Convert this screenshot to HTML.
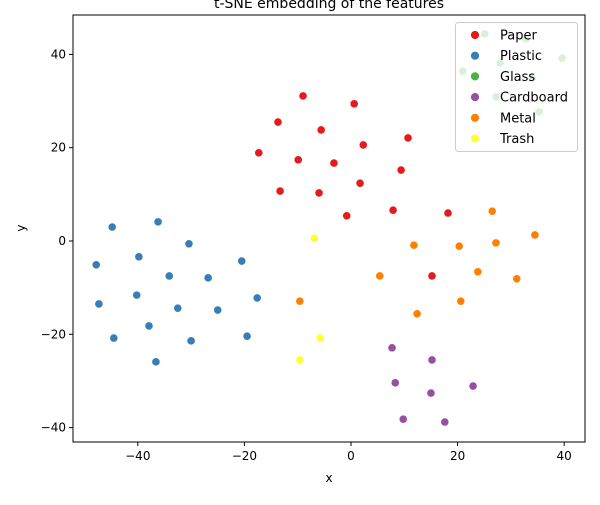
<!DOCTYPE html>
<html><head><meta charset="utf-8"><style>
body{margin:0;background:#fff;font-family:"Liberation Sans","DejaVu Sans",sans-serif}
text{font-family:"DejaVu Sans","Liberation Sans",sans-serif}
</style></head><body>
<svg id="chart" width="600" height="500" xmlns="http://www.w3.org/2000/svg">
<rect x="0" y="0" width="600" height="500" fill="#fff"/>
<text x="329" y="8" text-anchor="middle" font-size="14">t-SNE embedding of the features</text>
<g id="grid"></g>
<g id="pts"></g>
<rect x="73" y="15" width="512" height="427" fill="none" stroke="#000" stroke-width="1"/>
<g id="axes"></g>
<g id="legend"></g>
<text x="329" y="482" text-anchor="middle" font-size="12">x</text>
<text x="25" y="228" text-anchor="middle" font-size="12" transform="rotate(-90 25 228)">y</text>
</svg>
<script>
const categories=["Paper","Plastic","Glass","Cardboard","Metal","Trash"];
const colors=["#e41a1c","#377eb8","#4daf4a","#984ea3","#ff7f00","#ffff33"];
const paperX=[-9.0,0.6,-13.7,-5.6,10.7,2.3,-17.3,-9.9,-3.2,9.4,1.7,-13.3,-6.0,-0.8,7.9,18.2,15.2];
const paperY=[31.1,29.4,25.5,23.8,22.1,20.6,18.9,17.4,16.7,15.2,12.4,10.7,10.3,5.4,6.6,6.0,-7.5];
const plasticX=[-44.8,-36.2,-47.8,-39.8,-30.4,-34.1,-20.5,-26.8,-47.3,-40.2,-32.5,-25.0,-17.6,-44.5,-37.9,-30.0,-19.5,-36.6];
const plasticY=[3.0,4.1,-5.1,-3.4,-0.6,-7.5,-4.3,-7.9,-13.5,-11.6,-14.4,-14.8,-12.2,-20.8,-18.2,-21.4,-20.4,-25.9];
const glassX=[25.1,32.8,39.6,28.0,21.0,34.0,27.2,35.3];
const glassY=[44.4,43.3,39.2,38.2,36.4,34.9,30.9,27.7];
const cardboardX=[7.7,15.2,8.3,22.9,15.0,9.8,17.6];
const cardboardY=[-22.9,-25.5,-30.4,-31.1,-32.6,-38.2,-38.8];
const metalX=[26.5,34.5,11.8,20.3,27.2,23.8,5.4,31.1,-9.6,20.6,12.4];
const metalY=[6.4,1.3,-0.9,-1.1,-0.4,-6.6,-7.5,-8.1,-12.9,-12.9,-15.6];
const trashX=[-6.9,-5.8,-9.6];
const trashY=[0.6,-20.8,-25.5];
const xTicks=[-40,-20,0,20,40];
const yTicks=[-40,-20,0,20,40];
const NS="http://www.w3.org/2000/svg";
function sx(v){return 351+v*5.33;}
function sy(v){return 241-v*4.665;}
function mk(tag,attrs,parent){const e=document.createElementNS(NS,tag);for(const k in attrs)e.setAttribute(k,attrs[k]);parent.appendChild(e);return e;}
const axes=document.getElementById('axes');
xTicks.forEach(t=>{
  const l=mk('line',{x1:sx(t),x2:sx(t),y1:442,y2:446,stroke:'#000'},axes);
  
  
  const tx=mk('text',{x:sx(t),y:460,'text-anchor':'middle','font-size':'12'},axes);
  tx.textContent=(t<0?'\u2212'+(-t):t);
  
  
});
yTicks.forEach(t=>{
  const l=mk('line',{x1:69,x2:73,y1:sy(t),y2:sy(t),stroke:'#000'},axes);
  
  
  const tx=mk('text',{x:66,y:sy(t)+4,'text-anchor':'end','font-size':'12'},axes);
  tx.textContent=(t<0?'\u2212'+(-t):t);
  
  
});
const series=[[paperX,paperY],[plasticX,plasticY],[glassX,glassY],[cardboardX,cardboardY],[metalX,metalY],[trashX,trashY]];
const pts=document.getElementById('pts');
series.forEach((s,i)=>{
  s[0].forEach((x,j)=>{
    const c=mk('circle',{cx:sx(x),cy:sy(s[1][j]),r:4.2,fill:colors[i],stroke:'#fff','stroke-width':0.8},pts);
    
    
  });
});
const lg=document.getElementById('legend');
const box=mk('rect',{x:455.5,y:22.5,width:122,height:129,rx:3,fill:'#fff','fill-opacity':0.8,stroke:'#ccc'},lg);


categories.forEach((c,i)=>{
  const y=35+i*20.7;
  const d=mk('circle',{cx:475,cy:y,r:4.5,fill:colors[i],stroke:'#fff','stroke-width':0.8},lg);
  
  
  const t=mk('text',{x:500,y:y+4.5,'font-size':'13'},lg);
  t.textContent=c;
  
  
});
</script>
</body></html>
